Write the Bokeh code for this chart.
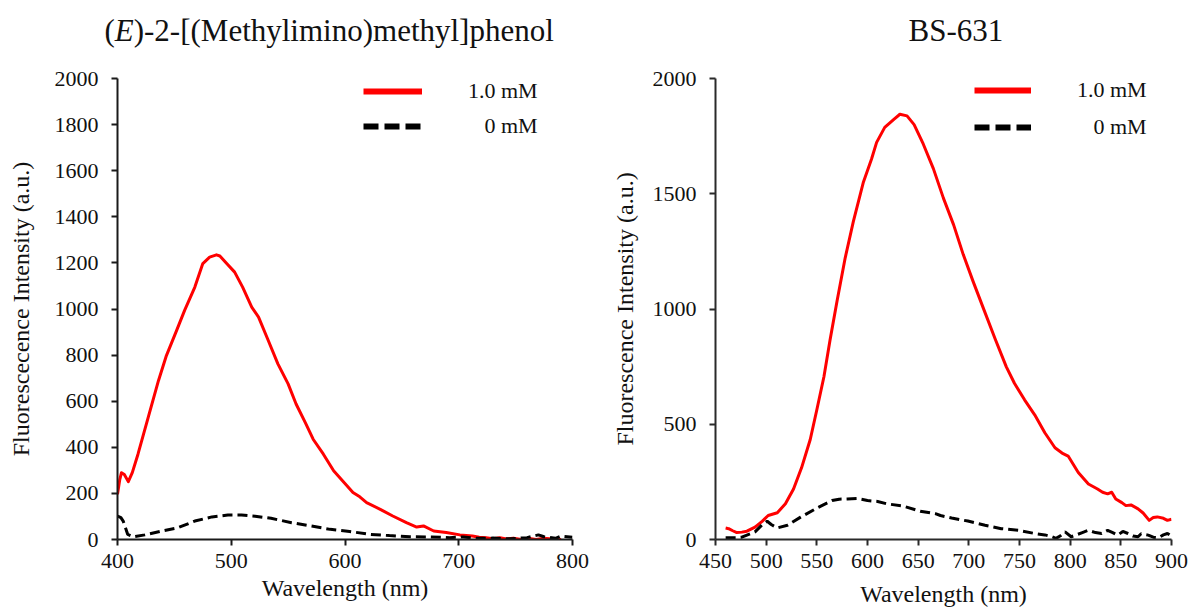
from bokeh.plotting import figure
from bokeh.layouts import row, column
from bokeh.models import (Range1d, Label, Legend, LegendItem, SingleIntervalTicker,
                          ColumnDataSource)
from bokeh.embed import file_html
from bokeh.resources import INLINE

# ---------------- data ----------------
left_title_parts = ["(", "E", ")-2-[(Methylimino)methyl]phenol"]
right_title = "BS-631"
series_labels = ["1.0 mM", "\u2007\u20080 mM"]
x_label = "Wavelength (nm)"
left_y_label = "Fluorescecence Intensity (a.u.)"
right_y_label = "Fluorescence Intensity (a.u.)"

left_red_wl = [400, 402, 403.5, 406, 409.5, 413, 418, 427, 436, 443, 452, 459, 468, 475, 481,
               487, 490, 496, 503, 510, 518, 524, 532, 541, 550, 557, 565, 572, 581, 590,
               598, 607, 613, 619, 631, 642, 654, 663, 669, 678, 689, 701, 712, 718, 724,
               730, 736, 742, 748, 755, 762, 768, 775, 782, 790]
left_red_int = [196, 260, 290, 282, 251, 290, 370, 530, 689, 798, 907, 994, 1095, 1197, 1225,
                1235, 1230, 1197, 1160, 1095, 1008, 965, 870, 762, 675, 588, 508, 435, 370, 298,
                254, 204, 185, 160, 131, 102, 73, 54, 59, 37, 30, 20, 15, 10, 8,
                3, 8, 2, 6, 0, 4, 0, 5, 2, 0]

left_blk_wl = [400, 403, 405, 409, 414, 424, 439, 453, 468, 483, 497, 509, 521, 535, 553,
               570, 587, 604, 622, 639, 657, 675, 692, 704, 716, 730, 745, 760, 770, 775,
               785, 790, 800]
left_blk_int = [102, 95, 80, 22, 12, 20, 37, 51, 80, 98, 106, 106, 101, 92, 73,
                59, 44, 35, 22, 17, 12, 11, 8, 11, 5, 6, 3, 8, 20, 12,
                5, 15, 10]

right_red_wl = [460, 463, 467, 471, 476, 481, 489, 496, 502, 511, 519, 527, 535, 543.5, 550,
                557, 563, 570, 578, 586, 596, 604, 609, 617, 626, 632, 639, 646, 655, 665,
                675, 685, 694.5, 704, 714, 726, 737, 745, 755, 765, 775, 785, 792, 798, 808,
                818, 827, 832, 837, 841, 845, 851, 855, 860, 867, 872, 878, 882, 886, 892,
                896, 900]
right_red_int = [50, 47, 38, 30, 32, 36, 54, 79, 104, 116, 155, 219, 312, 434, 563,
                 706, 864, 1036, 1222, 1379, 1551, 1651, 1723, 1788, 1823, 1845, 1838, 1800, 1716, 1609,
                 1480, 1365, 1236, 1122, 1007, 870, 749, 678, 606, 541, 463, 398, 375, 362, 291,
                 241, 219, 205, 198, 205, 176, 160, 147, 150, 133, 115, 83, 95, 98, 92,
                 83, 88]

right_blk_wl = [460, 471, 476, 481, 489, 496, 501, 505, 511, 521, 534, 550, 565, 572, 580,
                590, 600, 610, 619, 635, 652, 667, 672, 683, 699, 716, 732, 749, 765, 775,
                782, 786, 790, 795, 801, 806, 812, 818, 825, 831, 837, 842, 847, 852, 857,
                862, 867, 870, 877, 882, 887, 892, 896, 900]
right_blk_int = [8, 8, 10, 19, 33, 64, 79, 65, 50, 62, 97, 136, 169, 175, 176,
                 178, 169, 165, 155, 145, 123, 112, 104, 93, 80, 62, 47, 40, 26, 20,
                 12, 5, 15, 33, 12, 20, 30, 40, 30, 26, 40, 30, 19, 35, 26,
                 15, 12, 25, 19, 10, 8, 20, 26, 15]

FONT = "Liberation Serif"
RED = "#ff0000"
BLK = "#000000"
TXT = "#111111"
TITLE_H = 62


def style_axes(p, axis_color, xstep, ystep, xlab_standoff, ylab_standoff):
    p.xaxis.ticker = SingleIntervalTicker(interval=xstep)
    p.yaxis.ticker = SingleIntervalTicker(interval=ystep)
    for ax in (p.xaxis[0], p.yaxis[0]):
        ax.axis_line_color = axis_color
        ax.axis_line_width = 2
        ax.major_tick_line_color = axis_color
        ax.major_tick_line_width = 2
        ax.major_tick_out = 6
        ax.major_tick_in = 0
        ax.minor_tick_line_color = None
        ax.major_label_text_font = FONT
        ax.major_label_text_font_size = "22px"
        ax.major_label_text_color = TXT
        ax.axis_label_text_font = FONT
        ax.axis_label_text_font_size = "24px"
        ax.axis_label_text_font_style = "normal"
        ax.axis_label_text_color = TXT
    p.xaxis.major_label_standoff = 8
    p.yaxis.major_label_standoff = 13
    p.xaxis.axis_label_standoff = xlab_standoff
    p.yaxis.axis_label_standoff = ylab_standoff
    p.xgrid.visible = False
    p.ygrid.visible = False
    p.outline_line_color = None


def add_series(p, red_x, red_y, blk_x, blk_y, vx, vy, glyph_w, spacing):
    src_r = ColumnDataSource(data=dict(x=red_x, y=red_y))
    src_b = ColumnDataSource(data=dict(x=blk_x, y=blk_y))
    p.line("x", "y", source=src_r, line_color=RED, line_width=3, line_join="round")
    p.line("x", "y", source=src_b, line_color=BLK, line_width=3, line_dash="10 5")
    # legend-sample renderers: same data mapped on an x range that lies outside the view,
    # so only their (thicker) legend swatches are visible
    p.extra_x_ranges = {"legend_only": Range1d(start=10000, end=10001)}
    k_r = p.line("x", "y", source=src_r, x_range_name="legend_only",
                 line_color=RED, line_width=6)
    k_b = p.line("x", "y", source=src_b, x_range_name="legend_only",
                 line_color=BLK, line_width=6, line_dash="15 6")
    leg = Legend(items=[LegendItem(label=series_labels[0], renderers=[k_r]),
                        LegendItem(label=series_labels[1], renderers=[k_b])],
                 location=(vx, vy), orientation="vertical",
                 glyph_width=glyph_w, glyph_height=22, label_height=22,
                 label_standoff=46, spacing=spacing, padding=0, margin=0,
                 border_line_alpha=0, background_fill_alpha=0,
                 label_text_font=FONT, label_text_font_size="22px",
                 label_text_color=TXT)
    p.add_layout(leg)


# ---------------- title strip ----------------
pt = figure(width=1190, height=TITLE_H, output_backend="svg", toolbar_location=None,
            x_range=Range1d(0, 1190), y_range=Range1d(0, TITLE_H),
            min_border=0, min_border_left=0, min_border_right=0,
            min_border_top=0, min_border_bottom=0)
pt.axis.visible = False
pt.grid.visible = False
pt.outline_line_color = None
tx = [104, 114.3, 133.2]
styles = ["normal", "italic", "normal"]
for t, x0, st in zip(left_title_parts, tx, styles):
    pt.add_layout(Label(x=x0, y=32, x_units="screen", y_units="screen", text=t,
                        text_font=FONT, text_font_size="31px", text_font_style=st,
                        text_color=TXT, text_align="left", text_baseline="alphabetic"))
pt.add_layout(Label(x=908, y=32, x_units="screen", y_units="screen", text=right_title,
                    text_font=FONT, text_font_size="31px", text_color=TXT,
                    text_align="left", text_baseline="alphabetic"))

# ---------------- left panel ----------------
p1 = figure(width=595, height=612 - TITLE_H, output_backend="svg", toolbar_location=None,
            x_range=Range1d(400, 800), y_range=Range1d(0, 2000),
            min_border_left=117, min_border_right=23, min_border_top=78 - TITLE_H,
            min_border_bottom=73, x_axis_label=x_label, y_axis_label=left_y_label)
style_axes(p1, "#1a1a1a", 100, 200, 4, 18)
add_series(p1, left_red_wl, left_red_int, left_blk_wl, left_blk_int, 246, 400.5, 59, 9)

# ---------------- right panel ----------------
p2 = figure(width=595, height=612 - TITLE_H, output_backend="svg", toolbar_location=None,
            x_range=Range1d(450, 900), y_range=Range1d(0, 2000),
            min_border_left=120, min_border_right=19, min_border_top=76 - TITLE_H,
            min_border_bottom=71, x_axis_label=x_label, y_axis_label=right_y_label)
style_axes(p2, "#2a2a2a", 50, 500, 10, 12)
add_series(p2, right_red_wl, right_red_int, right_blk_wl, right_blk_int, 259, 399.5, 57, 11)

layout = column(pt, row(p1, p2))
open("out.html", "w").write(file_html(layout, INLINE))
